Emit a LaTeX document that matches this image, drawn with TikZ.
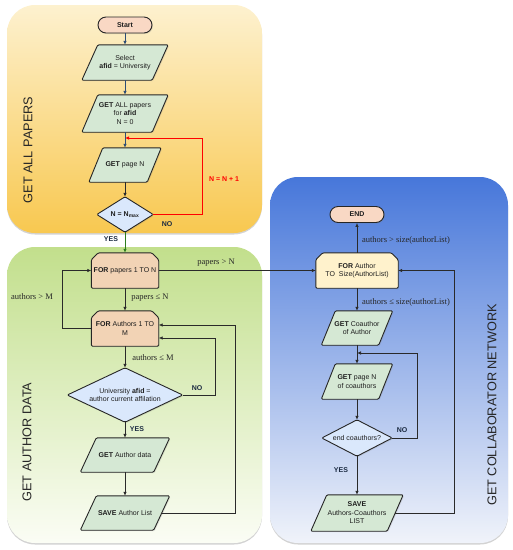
\documentclass[tikz,border=0pt]{standalone}
\usepackage{fontspec}
\setmainfont{Liberation Sans}
\newfontfamily\serifl{Liberation Serif}
\usetikzlibrary{shadows,arrows.meta,calc}
\pgfdeclarelayer{panel}\pgfdeclarelayer{shape}
\pgfsetlayers{panel,shape,main}
\definecolor{paraC}{HTML}{D5E8D4}
\definecolor{diaC}{HTML}{DAE8FC}
\definecolor{termC}{HTML}{F9D8C4}
\definecolor{forC}{HTML}{F2D3B5}
\definecolor{forB}{HTML}{FFF2CC}
\definecolor{lineC}{HTML}{2A2A2A}
\definecolor{blueA}{HTML}{2E4D74}
\definecolor{greenA}{HTML}{2E7D1E}
\definecolor{txtC}{HTML}{1E1E1E}
\definecolor{ynC}{HTML}{1B2A41}
\tikzset{
 txt/.style={inner sep=0pt, align=center, font=\fontsize{7}{8.5}\selectfont, text=txtC},
 outline/.style={draw=black!85, line width=0.9pt, rounded corners=1.2pt, drop shadow={opacity=0.2, shadow xshift=1pt, shadow yshift=-1pt}},
 conn/.style={draw=lineC, line width=0.7pt, -{Latex[length=4pt,width=3.5pt]}},
 elab/.style={inner sep=0pt, font=\serifl\fontsize{8.5}{10}\selectfont, text=black!85},
 ynlab/.style={inner sep=0pt, font=\bfseries\fontsize{7}{8}\selectfont, text=ynC},
 ptitle/.style={rotate=90, inner sep=0pt, font=\fontsize{12.7}{14}\selectfont, text=black!85},
 term/.style={txt, draw=black!85, line width=0.9pt, fill=termC, rounded corners=8pt, minimum width=54pt, minimum height=16pt, font=\bfseries\fontsize{7}{8.5}\selectfont, drop shadow={opacity=0.2, shadow xshift=1pt, shadow yshift=-1pt}},
 panelbox/.style={rounded corners=28pt, drop shadow={opacity=0.35, shadow xshift=0pt, shadow yshift=-1.5pt}},
}
% parallelogram: name, pos, body width, height, slant, text
\newcommand{\Para}[6]{%
 \node[txt, minimum width=#3, minimum height=#4] (#1) at (#2) {#6};
 \begin{pgfonlayer}{shape}
 \path[outline, fill=paraC] ([xshift=#5/2]#1.north west) -- ([xshift=#5/2]#1.north east) -- ([xshift=-#5/2]#1.south east) -- ([xshift=-#5/2]#1.south west) -- cycle;
 \end{pgfonlayer}}
% loop limit: name, pos, width, height, fill, text
\newcommand{\LoopL}[6]{%
 \node[txt, minimum width=#3, minimum height=#4] (#1) at (#2) {#6};
 \begin{pgfonlayer}{shape}
 \path[outline, fill=#5] (#1.south west) -- ([yshift=-7pt]#1.north west) -- ([xshift=7pt]#1.north west) -- ([xshift=-7pt]#1.north east) -- ([yshift=-7pt]#1.north east) -- (#1.south east) -- cycle;
 \end{pgfonlayer}}
% decision: name, pos, width, height, text
\newcommand{\Dia}[5]{%
 \node[txt, minimum width=#3, minimum height=#4] (#1) at (#2) {#5};
 \begin{pgfonlayer}{shape}
 \path[outline, fill=diaC] (#1.north) -- (#1.east) -- (#1.south) -- (#1.west) -- cycle;
 \end{pgfonlayer}}
\begin{document}
\begin{tikzpicture}[x=1pt,y=-1pt]
\useasboundingbox (0,0) rectangle (513,550);
\begin{pgfonlayer}{panel}
 \path[panelbox, top color={rgb,255:red,253;green,241;blue,207}, bottom color={rgb,255:red,248;green,200;blue,80}] (7,5) rectangle (262,233);
 \path[panelbox, top color={rgb,255:red,194;green,223;blue,140}, bottom color={rgb,255:red,251;green,253;blue,245}] (7,247) rectangle (262,543);
 \path[panelbox, top color={rgb,255:red,71;green,119;blue,218}, bottom color={rgb,255:red,240;green,243;blue,250}] (270,177) rectangle (508,543);
\end{pgfonlayer}
% panel titles
\node[ptitle] (t1) at (28,150) {GET ALL PAPERS};
\node[ptitle] (t2) at (27,442) {GET AUTHOR DATA};
\node[ptitle] (t3) at (492,405) {GET COLLABORATOR NETWORK};
% ---- yellow
\node[term] (start) at (125,25) {Start};
\Para{select}{125,62.5}{70pt}{35pt}{16pt}{Select\\\textbf{afid} = University}
\Para{getall}{125,113.5}{70pt}{37pt}{16pt}{\textbf{GET} ALL papers\\for \textbf{afid}\\N = 0}
\Para{getpage}{125,165}{58pt}{34pt}{14pt}{\textbf{GET} page N}
\Dia{d1}{125,214.5}{56pt}{35pt}{\textbf{N = N\textsubscript{max}}}
\coordinate (rj) at (125,138);
\draw[conn, draw=blueA] (start.south) -- (select.north);
\draw[conn, draw=blueA] (select.south) -- (getall.north);
\draw[conn, draw=blueA] (getall.south) -- (getpage.north);
\draw[conn] (getpage.south) -- (d1.north);
\draw[conn, draw=red, line width=0.9pt] (d1.east) -- ++(49,0) |- (rj);
\node[inner sep=0pt, font=\bfseries\fontsize{7}{8}\selectfont, text=red] (nn) at (224,179) {N = N + 1};
\node[ynlab] (no1) at (167,224) {NO};
\node[ynlab] (yes1) at (111,239) {YES};
% ---- green
\LoopL{forp}{125,270.5}{67pt}{35pt}{forC}{\textbf{FOR} papers 1 TO N}
\LoopL{fora}{125,328.5}{67pt}{35pt}{forC}{\textbf{FOR} Authors 1 TO\\M}
\Dia{d2}{125,395}{115pt}{54pt}{University \textbf{afid} =\\author current affilation}
\Para{gad}{125,455}{73pt}{34pt}{16pt}{\textbf{GET} Author data}
\Para{sal}{125,513}{73pt}{34pt}{16pt}{\textbf{SAVE} Author List}
\draw[conn, draw=greenA, line width=0.9pt] (d1.south) -- (forp.north);
\draw[conn] (forp.south) -- (fora.north);
\draw[conn] (fora.west) -- ++(-28.5,0) |- (forp.west);
\draw[conn] (fora.south) -- (d2.north);
\draw[conn] (d2.east) -- ++(32.5,0) |- ([yshift=-9.5pt]fora.east);
\draw[conn] (d2.south) -- (gad.north);
\draw[conn] (gad.south) -- (sal.north);
\draw[conn] (sal.east) -- ++(73.5,0) |- ([yshift=3.5pt]fora.east);
\node[elab] (l1) at (150,298) {papers ≤ N};
\node[elab] (l2) at (32,297) {authors > M};
\node[elab] (l3) at (153,358) {authors ≤ M};
\node[elab] (l4) at (216,263) {papers > N};
\node[ynlab] (no2) at (197,388) {NO};
\node[ynlab] (yes2) at (137,429) {YES};
% ---- blue
\node[term] (end) at (357,214.5) {END};
\LoopL{fa}{357,270.5}{82pt}{35pt}{forB}{\textbf{FOR} Author\\TO\ \ Size(AuthorList)}
\Para{gc}{357,328}{57pt}{34pt}{14pt}{\textbf{GET} Coauthor\\of Author}
\Para{gp}{357,381.5}{57pt}{35pt}{14pt}{\textbf{GET} page N\\of coauthors}
\Dia{d3}{357,438}{70pt}{36pt}{end coauthors?}
\Para{sac}{357,513}{76pt}{36pt}{16pt}{\textbf{SAVE}\\Authors-Coauthors\\LIST}
\coordinate (cj) at (357,353);
\draw[conn] (forp.east) -- (fa.west);
\draw[conn] (fa.north) -- (end.south);
\draw[conn] (fa.south) -- (gc.north);
\draw[conn] (gc.south) -- (gp.north);
\draw[conn] (gp.south) -- (d3.north);
\draw[conn] (d3.east) -- ++(25,0) |- (cj);
\draw[conn] (d3.south) -- (sac.north);
\draw[conn] (sac.east) -- ++(59,0) |- (fa.east);
\node[elab] (l5) at (406,240) {authors > size(authorList)};
\node[elab] (l6) at (406,302) {authors ≤ size(authorList)};
\node[ynlab] (no3) at (402,430) {NO};
\node[ynlab] (yes3) at (341,470) {YES};
\end{tikzpicture}
\end{document}
